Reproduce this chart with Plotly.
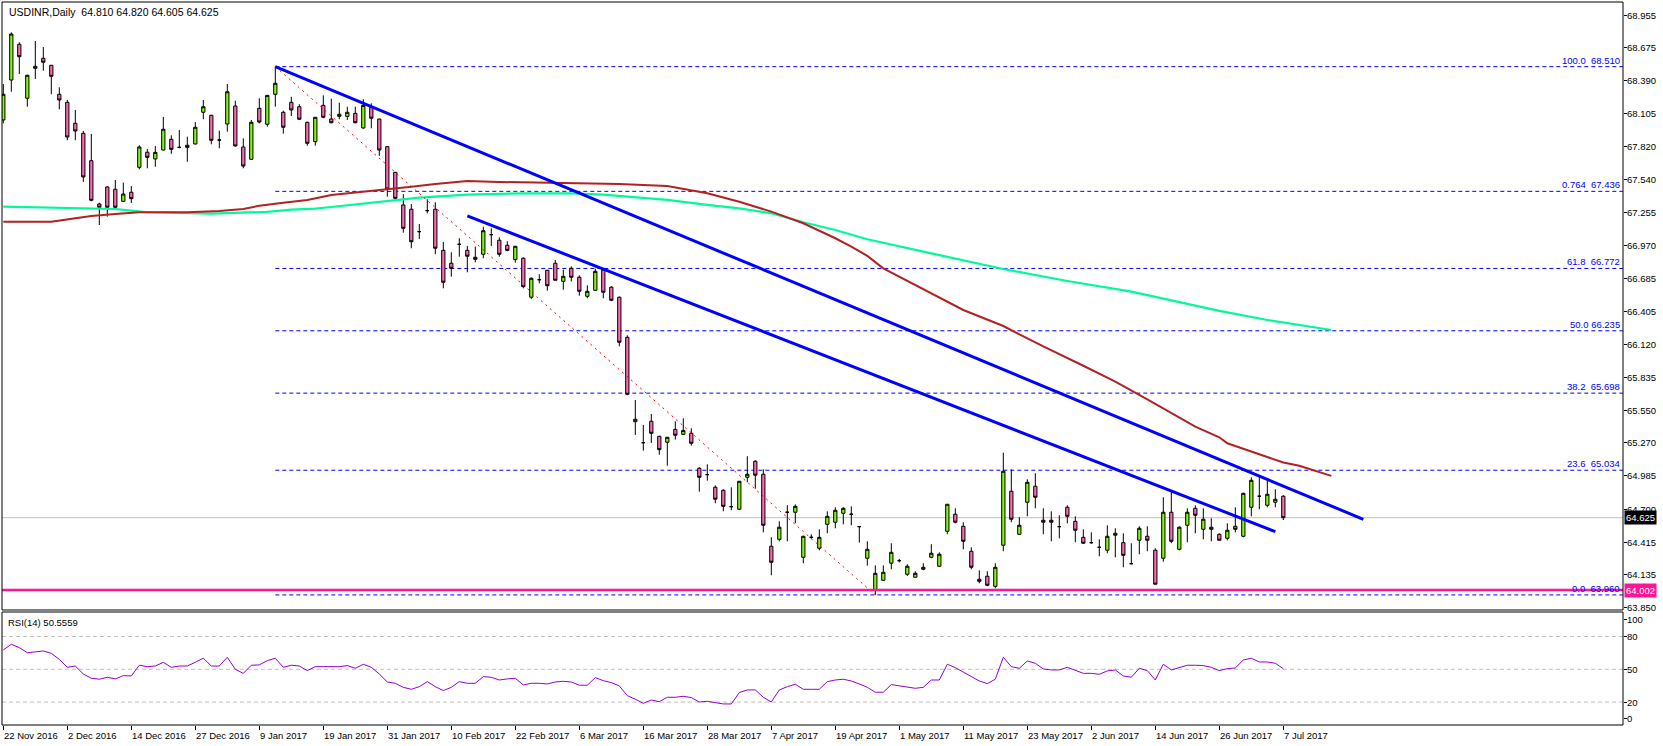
import plotly.graph_objects as go

title_text = "USDINR,Daily  64.810 64.820 64.605 64.625"
rsi_title = "RSI(14) 50.5559"

opens = [68.051, 68.395, 68.703, 68.238, 68.496, 68.582, 68.522, 68.272, 68.203, 68.022,
         67.936, 67.700, 67.327, 67.474, 67.454, 67.350, 67.428, 67.643, 67.773, 67.715,
         67.792, 67.884, 67.815, 67.833, 67.844, 68.117, 68.091, 67.878, 68.016, 68.171,
         67.818, 67.712, 68.151, 68.014, 68.272, 68.117, 68.203, 68.165, 68.031, 67.864,
         68.177, 68.059, 68.082, 68.082, 68.108, 67.982, 68.160, 68.059, 67.821, 67.600,
         67.319, 67.282, 67.089, 67.270, 67.282, 66.928, 66.817, 66.980, 66.928, 66.868,
         66.894, 67.063, 67.015, 66.972, 66.848, 66.860, 66.524, 66.675, 66.756, 66.817,
         66.661, 66.773, 66.696, 66.532, 66.584, 66.756, 66.610, 66.524, 66.179, 65.452,
         65.271, 65.456, 65.326, 65.275, 65.386, 65.343, 65.352, 65.051, 64.996, 64.887,
         64.861, 64.720, 64.698, 64.973, 65.111, 64.999, 64.379, 64.439, 64.672, 64.672,
         64.284, 64.456, 64.362, 64.568, 64.586, 64.663, 64.655, 64.548, 64.276, 64.005,
         64.086, 64.233, 64.255, 64.138, 64.112, 64.198, 64.284, 64.207, 64.508, 64.655,
         64.551, 64.336, 64.095, 64.121, 64.034, 64.388, 64.853, 64.482, 64.758, 64.896,
         64.603, 64.603, 64.548, 64.715, 64.594, 64.456, 64.410, 64.370, 64.345, 64.474,
         64.410, 64.229, 64.431, 64.465, 64.345, 64.276, 64.672, 64.353, 64.560, 64.706,
         64.525, 64.543, 64.482, 64.448, 64.551, 64.465, 64.715, 64.810, 64.732, 64.758,
         64.810]
highs = [68.361, 68.806, 68.720, 68.440, 68.731, 68.679, 68.524, 68.332, 68.223, 68.137,
         67.956, 67.930, 67.339, 67.480, 67.534, 67.511, 67.482, 67.833, 67.801, 67.827,
         68.077, 67.919, 67.965, 67.907, 68.033, 68.223, 68.095, 67.959, 68.361, 68.217,
         67.893, 68.051, 68.238, 68.265, 68.510, 68.131, 68.251, 68.186, 68.035, 68.075,
         68.263, 68.234, 68.200, 68.165, 68.165, 68.229, 68.194, 68.060, 67.825, 67.600,
         67.411, 67.327, 67.155, 67.368, 67.342, 67.000, 66.911, 67.032, 66.966, 66.960,
         67.132, 67.118, 67.040, 67.006, 66.965, 66.868, 66.695, 66.722, 66.760, 66.845,
         66.762, 66.790, 66.713, 66.627, 66.770, 66.767, 66.620, 66.530, 66.196, 65.639,
         65.424, 65.518, 65.330, 65.320, 65.455, 65.481, 65.395, 65.060, 65.085, 64.904,
         64.870, 64.887, 64.940, 65.154, 65.120, 65.042, 64.457, 64.594, 64.733, 64.740,
         64.470, 64.482, 64.525, 64.680, 64.715, 64.715, 64.723, 64.550, 64.422, 64.215,
         64.215, 64.405, 64.270, 64.224, 64.164, 64.233, 64.396, 64.327, 64.741, 64.706,
         64.586, 64.370, 64.172, 64.164, 64.233, 65.185, 65.042, 64.629, 64.956, 65.008,
         64.706, 64.680, 64.646, 64.732, 64.637, 64.525, 64.499, 64.439, 64.560, 64.534,
         64.491, 64.405, 64.551, 64.551, 64.362, 64.801, 64.844, 64.550, 64.706, 64.732,
         64.706, 64.620, 64.490, 64.577, 64.715, 64.840, 64.973, 64.973, 64.947, 64.870,
         64.820]
lows = [68.022, 68.294, 68.447, 68.165, 68.404, 68.475, 68.272, 68.143, 67.876, 67.876,
        67.517, 67.350, 67.146, 67.218, 67.290, 67.345, 67.336, 67.626, 67.635, 67.648,
        67.790, 67.760, 67.807, 67.691, 67.840, 68.057, 67.841, 67.807, 67.950, 67.821,
        67.635, 67.710, 68.022, 67.993, 68.165, 67.933, 68.085, 68.051, 67.829, 67.830,
        68.066, 68.022, 68.057, 68.051, 68.022, 67.976, 67.979, 67.741, 67.390, 67.370,
        67.080, 66.946, 67.026, 67.247, 66.894, 66.601, 66.701, 66.873, 66.739, 66.825,
        66.860, 66.966, 66.873, 66.920, 66.822, 66.601, 66.510, 66.644, 66.580, 66.670,
        66.589, 66.660, 66.537, 66.515, 66.580, 66.515, 66.490, 66.101, 65.680, 65.338,
        65.203, 65.269, 65.168, 65.073, 65.297, 65.340, 65.246, 64.849, 64.944, 64.749,
        64.681, 64.689, 64.690, 64.930, 64.875, 64.499, 64.129, 64.422, 64.422, 64.577,
        64.233, 64.439, 64.344, 64.491, 64.534, 64.568, 64.560, 64.410, 64.212, 63.960,
        64.080, 64.181, 64.240, 64.123, 64.110, 64.172, 64.276, 64.200, 64.482, 64.577,
        64.353, 64.181, 64.060, 64.035, 64.017, 64.336, 64.586, 64.480, 64.637, 64.706,
        64.482, 64.422, 64.447, 64.577, 64.413, 64.400, 64.400, 64.293, 64.319, 64.284,
        64.198, 64.224, 64.310, 64.336, 64.050, 64.246, 64.405, 64.344, 64.413, 64.491,
        64.439, 64.422, 64.430, 64.430, 64.499, 64.456, 64.637, 64.698, 64.715, 64.715,
        64.605]
closes = [68.272, 68.791, 68.596, 68.436, 68.513, 68.548, 68.427, 68.223, 67.904, 67.956,
          67.560, 67.359, 67.299, 67.299, 67.299, 67.413, 67.373, 67.818, 67.729, 67.772,
          67.971, 67.798, 67.815, 67.815, 67.988, 68.165, 67.876, 67.878, 68.294, 67.827,
          67.654, 68.031, 68.033, 68.263, 68.367, 67.988, 68.137, 68.057, 67.850, 68.074,
          68.074, 68.027, 68.100, 68.117, 68.027, 68.177, 68.066, 67.792, 67.456, 67.376,
          67.118, 67.002, 67.089, 67.270, 66.946, 66.653, 66.773, 66.980, 66.877, 66.851,
          67.097, 67.063, 66.894, 66.928, 66.963, 66.615, 66.687, 66.675, 66.623, 66.670,
          66.704, 66.696, 66.575, 66.575, 66.747, 66.567, 66.498, 66.136, 65.688, 65.473,
          65.271, 65.352, 65.211, 65.318, 65.335, 65.377, 65.266, 64.973, 64.996, 64.784,
          64.723, 64.720, 64.939, 64.999, 64.991, 64.560, 64.241, 64.543, 64.672, 64.723,
          64.465, 64.456, 64.456, 64.637, 64.689, 64.706, 64.655, 64.548, 64.353, 64.146,
          64.155, 64.327, 64.255, 64.207, 64.146, 64.181, 64.319, 64.310, 64.741, 64.586,
          64.422, 64.198, 64.077, 64.043, 64.198, 65.025, 64.612, 64.560, 64.930, 64.801,
          64.586, 64.586, 64.548, 64.637, 64.517, 64.405, 64.410, 64.370, 64.465, 64.491,
          64.301, 64.229, 64.534, 64.431, 64.052, 64.672, 64.422, 64.543, 64.672, 64.646,
          64.612, 64.525, 64.431, 64.517, 64.525, 64.835, 64.947, 64.810, 64.827, 64.784,
          64.625]

rsi_vals = [67.7, 72.9, 69.8, 65.2, 65.9, 66.8, 64.6, 59.1, 51.8, 53.0,
            45.7, 41.8, 40.9, 42.7, 41.2, 44.2, 43.9, 53.7, 52.4, 53.0,
            56.4, 51.8, 53.0, 53.0, 56.4, 60.1, 53.0, 53.0, 61.0, 50.0,
            46.3, 53.7, 54.0, 57.9, 60.1, 51.8, 53.7, 53.0, 48.8, 52.4,
            52.4, 52.1, 52.4, 53.4, 50.9, 54.6, 51.8, 45.7, 38.4, 37.2,
            33.5, 31.7, 34.1, 38.7, 34.1, 30.5, 33.5, 38.7, 37.2, 37.2,
            43.3, 42.7, 40.2, 41.2, 41.8, 35.7, 37.2, 37.2, 36.6, 38.4,
            39.0, 38.4, 35.4, 35.4, 42.4, 39.6, 37.8, 34.8, 25.9, 22.6,
            18.9, 21.9, 20.4, 24.4, 24.4, 25.3, 24.1, 20.1, 20.7, 19.5,
            18.3, 18.3, 28.7, 31.1, 31.1, 24.4, 20.1, 31.1, 34.1, 36.3,
            31.7, 31.7, 31.7, 38.7, 40.2, 40.9, 39.3, 36.6, 33.5, 29.0,
            29.0, 36.0, 34.8, 34.1, 32.6, 33.5, 40.2, 40.2, 54.6, 51.5,
            47.3, 43.0, 39.3, 36.9, 40.9, 61.0, 52.4, 50.9, 57.6, 55.5,
            50.3, 49.4, 49.4, 51.8, 49.4, 46.3, 46.3, 45.4, 48.5, 49.4,
            43.9, 42.7, 50.9, 48.8, 40.2, 54.6, 49.4, 51.8, 53.7, 53.7,
            53.4, 51.8, 48.8, 50.6, 51.2, 58.5, 60.1, 56.7, 56.7, 55.5,
            50.56]

# moving averages (read at selected bars; drawn shifted to the right of the last bar)
ma100_x = [0, 6, 9, 11, 14, 17, 23, 27, 30, 32, 35, 38, 41, 44, 48, 51, 54, 58, 62, 71,
           77, 83, 85, 88, 92, 96, 100, 104, 106, 108, 110, 115, 120, 125, 130, 135, 139,
           143, 147, 149, 152, 153, 160, 162, 166]
ma100_y = [67.175, 67.175, 67.204, 67.224, 67.241, 67.256, 67.256, 67.267, 67.284, 67.312,
           67.338, 67.362, 67.405, 67.425, 67.456, 67.476, 67.500, 67.525, 67.517, 67.505,
           67.500, 67.482, 67.456, 67.419, 67.347, 67.261, 67.161, 67.032, 66.959, 66.880,
           66.773, 66.590, 66.414, 66.276, 66.100, 65.934, 65.797, 65.645, 65.490, 65.409,
           65.318, 65.266, 65.100, 65.073, 64.985]
ma200_x = [0, 3, 12, 14, 16, 18, 26, 31, 33, 36, 39, 41, 43, 45, 47, 50, 52, 54, 58, 65,
           71, 75, 79, 83, 88, 92, 96, 100, 104, 108, 116, 125, 133, 141, 150, 152, 158, 166]
ma200_y = [67.304, 67.300, 67.293, 67.284, 67.270, 67.256, 67.244, 67.252, 67.260, 67.278,
           67.287, 67.301, 67.316, 67.333, 67.347, 67.365, 67.382, 67.390, 67.407, 67.419,
           67.419, 67.407, 67.385, 67.362, 67.319, 67.290, 67.247, 67.170, 67.103, 67.023,
           66.902, 66.767, 66.664, 66.572, 66.437, 66.406, 66.328, 66.242]

date_labels = ["22 Nov 2016", "2 Dec 2016", "14 Dec 2016", "27 Dec 2016", "9 Jan 2017",
               "19 Jan 2017", "31 Jan 2017", "10 Feb 2017", "22 Feb 2017", "6 Mar 2017",
               "16 Mar 2017", "28 Mar 2017", "7 Apr 2017", "19 Apr 2017", "1 May 2017",
               "11 May 2017", "23 May 2017", "2 Jun 2017", "14 Jun 2017", "26 Jun 2017",
               "7 Jul 2017"]
date_tick_bars = list(range(0, 161, 8))

price_ticks = [68.955, 68.675, 68.390, 68.105, 67.820, 67.540, 67.255, 66.970, 66.685,
               66.405, 66.120, 65.835, 65.550, 65.270, 64.985, 64.700, 64.415, 64.135, 63.850]
rsi_tick_pos = [95.7, 80, 50, 20, 5.2]
rsi_tick_text = ["100", "80", "50", "20", "0"]
rsi_levels = [80, 50, 20]

fib_levels = [68.510, 67.436, 66.772, 66.235, 65.698, 65.034, 63.960]
fib_texts = ["100.0  68.510", "0.764  67.436", "61.8  66.772", "50.0 66.235",
             "38.2  65.698", "23.6  65.034", "0.0  63.960"]
fib_start_bar = 34
swing_bars = [34, 109]
swing_prices = [68.510, 63.960]
upper_trend_bars = [34, 170]
upper_trend_prices = [68.510, 64.611]
lower_trend_bars = [58, 159]
lower_trend_prices = [67.224, 64.505]
support_level = 64.002
last_price = 64.625

FONT = "Liberation Sans"
FS = 9.5
bars = list(range(len(opens)))

X_MIN, X_MAX = -0.1625, 202.46
MAIN_DOM = [0.15906, 1.0]
RSI_DOM = [0.0, 0.15629]

fig = go.Figure()

fig.add_trace(go.Candlestick(
    x=bars, open=opens, high=highs, low=lows, close=closes,
    increasing=dict(fillcolor="#7CFC00", line=dict(color="black", width=1)),
    decreasing=dict(fillcolor="#FF69B4", line=dict(color="black", width=1)),
    whiskerwidth=0, xaxis="x", yaxis="y", showlegend=False, hoverinfo="skip"))

fig.add_trace(go.Scatter(x=ma200_x, y=ma200_y, mode="lines",
                         line=dict(color="#00FA9A", width=2.2), xaxis="x", yaxis="y",
                         showlegend=False, hoverinfo="skip"))
fig.add_trace(go.Scatter(x=ma100_x, y=ma100_y, mode="lines",
                         line=dict(color="#B22222", width=2), xaxis="x", yaxis="y",
                         showlegend=False, hoverinfo="skip"))
fig.add_trace(go.Scatter(x=swing_bars, y=swing_prices, mode="lines",
                         line=dict(color="#FF0000", width=1, dash="2px,4px"),
                         xaxis="x", yaxis="y", showlegend=False, hoverinfo="skip"))
fig.add_trace(go.Scatter(x=upper_trend_bars, y=upper_trend_prices, mode="lines",
                         line=dict(color="#0000FF", width=3), xaxis="x", yaxis="y",
                         showlegend=False, hoverinfo="skip"))
fig.add_trace(go.Scatter(x=lower_trend_bars, y=lower_trend_prices, mode="lines",
                         line=dict(color="#0000FF", width=3), xaxis="x", yaxis="y",
                         showlegend=False, hoverinfo="skip"))
fig.add_trace(go.Scatter(x=bars, y=rsi_vals, mode="lines",
                         line=dict(color="#9400D3", width=1), xaxis="x", yaxis="y2",
                         showlegend=False, hoverinfo="skip"))

shapes = []
shapes.append(dict(type="line", xref="x", yref="y", x0=X_MIN, x1=X_MAX,
                   y0=last_price, y1=last_price, line=dict(color="#C0C0C0", width=1),
                   layer="below"))
for lvl in fib_levels:
    shapes.append(dict(type="line", xref="x", yref="y", x0=fib_start_bar, x1=X_MAX,
                       y0=lvl, y1=lvl, line=dict(color="#0000FF", width=1, dash="4px,3px"),
                       layer="below"))
shapes.append(dict(type="line", xref="x", yref="y", x0=X_MIN, x1=X_MAX,
                   y0=support_level, y1=support_level,
                   line=dict(color="#FF1493", width=2.5)))
for lvl in rsi_levels:
    shapes.append(dict(type="line", xref="x", yref="y2", x0=X_MIN, x1=X_MAX,
                       y0=lvl, y1=lvl, line=dict(color="#C0C0C0", width=1, dash="4px,3px"),
                       layer="below"))
shapes.append(dict(type="rect", xref="paper", yref="paper", x0=0, x1=1,
                   y0=MAIN_DOM[0], y1=MAIN_DOM[1], line=dict(color="black", width=1)))
shapes.append(dict(type="rect", xref="paper", yref="paper", x0=0, x1=1,
                   y0=RSI_DOM[0], y1=RSI_DOM[1], line=dict(color="black", width=1)))

annotations = []
annotations.append(dict(text=title_text, xref="paper", yref="paper", x=0, y=1,
                        xanchor="left", yanchor="top", xshift=5, yshift=-2,
                        showarrow=False, font=dict(family=FONT, size=10.5, color="black")))
annotations.append(dict(text=rsi_title, xref="paper", yref="paper", x=0, y=RSI_DOM[1],
                        xanchor="left", yanchor="top", xshift=4, yshift=-3,
                        showarrow=False, font=dict(family=FONT, size=FS, color="black")))
for lvl, txt in zip(fib_levels, fib_texts):
    annotations.append(dict(text=txt, xref="paper", yref="y", x=1, y=lvl,
                            xanchor="right", yanchor="bottom", xshift=-1, yshift=-1,
                            showarrow=False, font=dict(family=FONT, size=FS, color="#0000FF")))
for b, lab in zip(date_tick_bars, date_labels):
    annotations.append(dict(text=lab, xref="x", yref="paper", x=b, y=0,
                            xanchor="left", yanchor="top", xshift=-1, yshift=-3,
                            showarrow=False, font=dict(family=FONT, size=FS, color="black")))
for v in price_ticks:
    annotations.append(dict(text="%.3f" % v, xref="paper", yref="y", x=1, y=v,
                            xanchor="left", yanchor="middle", xshift=2, showarrow=False,
                            font=dict(family=FONT, size=FS, color="black")))
for v, t in zip(rsi_tick_pos, rsi_tick_text):
    annotations.append(dict(text=t, xref="paper", yref="y2", x=1, y=v,
                            xanchor="left", yanchor="middle", xshift=2, showarrow=False,
                            font=dict(family=FONT, size=FS, color="black")))
annotations.append(dict(text="%.3f" % last_price, xref="paper", yref="y", x=1, y=last_price,
                        xanchor="left", yanchor="middle", xshift=1, showarrow=False,
                        bgcolor="black", borderpad=1,
                        font=dict(family=FONT, size=FS, color="white")))
annotations.append(dict(text="%.3f" % support_level, xref="paper", yref="y", x=1, y=support_level,
                        xanchor="left", yanchor="middle", xshift=1, showarrow=False,
                        bgcolor="#FF1493", borderpad=1,
                        font=dict(family=FONT, size=FS, color="white")))

fig.update_layout(
    width=1663, height=746,
    margin=dict(l=2, r=40, t=2, b=21),
    paper_bgcolor="white", plot_bgcolor="white",
    showlegend=False, boxgap=0.42,
    font=dict(family=FONT, size=FS, color="black"),
    xaxis=dict(range=[X_MIN, X_MAX], anchor="y2", showgrid=False, zeroline=False,
               tickvals=date_tick_bars, ticks="outside", ticklen=4, tickcolor="black",
               showticklabels=False, rangeslider=dict(visible=False), fixedrange=True,
               showline=False),
    yaxis=dict(domain=MAIN_DOM, range=[63.830, 69.067], side="right", anchor="x",
               tickvals=price_ticks, ticks="outside", ticklen=3, tickcolor="black",
               showticklabels=False, showgrid=False, zeroline=False, fixedrange=True),
    yaxis2=dict(domain=RSI_DOM, range=[-0.96, 102.4], side="right", anchor="x",
                tickvals=rsi_tick_pos, ticks="outside", ticklen=3, tickcolor="black",
                showticklabels=False, showgrid=False, zeroline=False, fixedrange=True),
    shapes=shapes, annotations=annotations,
)

fig.write_html(
    "out.html",
    config={"displayModeBar": False},
    post_script="document.body.style.margin='0';document.body.style.padding='0';"
                "document.body.style.overflow='hidden';",
)
